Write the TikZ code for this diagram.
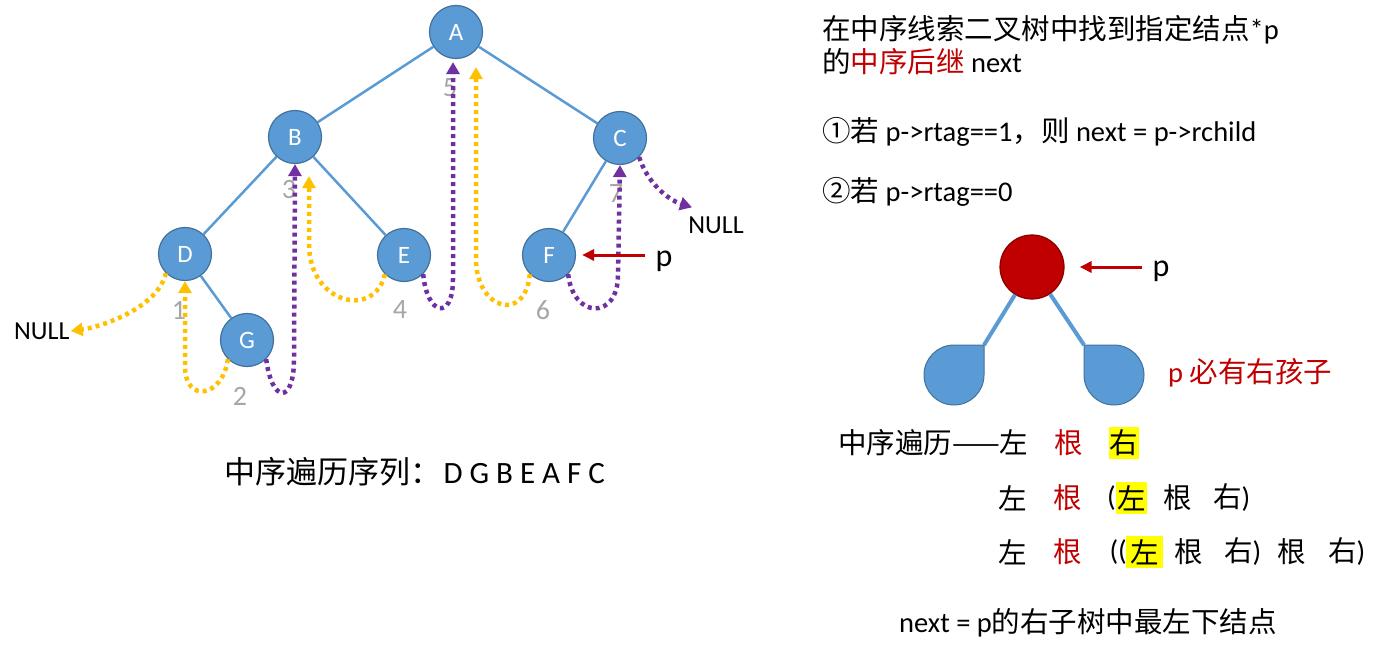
\documentclass[tikz,border=0pt]{standalone}
\usepackage{fontspec}
\setmainfont{Carlito}
\newfontfamily\cjk{Noto Sans CJK SC}
\usepackage{tikz}
\usetikzlibrary{arrows.meta, calc}
\usepackage{xcolor}
\definecolor{nodeblue}{HTML}{5B9BD5}
\definecolor{nodeedge}{HTML}{41719C}
\definecolor{thyellow}{HTML}{FFC000}
\definecolor{thpurple}{HTML}{7030A0}
\definecolor{pred}{HTML}{C00000}
\definecolor{numgray}{HTML}{A6A6A6}
\definecolor{hlyellow}{HTML}{FFFF00}

\begin{document}
\begin{tikzpicture}[x=1pt, y=-1pt,
  tnode/.style={circle, fill=nodeblue, draw=nodeedge, line width=1.2pt, minimum size=53pt, inner sep=0pt,
    text=white, font=\fontsize{25}{28}\selectfont},
  edge/.style={draw=nodeblue, line width=2.5pt},
  thr/.style={line width=4.5pt, dash pattern=on 4pt off 4pt, -{Triangle[length=12pt,width=13pt]}},
  ythr/.style={thr, draw=thyellow},
  pthr/.style={thr, draw=thpurple},
  num/.style={text=numgray, font=\fontsize{28}{30}\selectfont},
  nulltxt/.style={font=\fontsize{26}{28}\selectfont, inner sep=1pt},
  bigp/.style={font=\fontsize{32}{36}\selectfont, inner sep=0pt},
  parrow/.style={draw=pred, line width=3pt, -{Triangle[length=12pt,width=11pt]}},
  rtxt/.style={font=\fontsize{28.5}{32}\selectfont, inner sep=0pt},
  hl/.style={fill=hlyellow, inner xsep=1pt, inner ysep=3pt},
  subtree/.style={fill=nodeblue, draw=nodeedge, line width=1pt}]
  \useasboundingbox (0,0) rectangle (1375,647);

  % threaded tree
  \node[tnode] (A) at (456,32) {A};
  \node[tnode] (B) at (295,137) {B};
  \node[tnode] (C) at (620,138) {C};
  \node[tnode] (D) at (185,254) {D};
  \node[tnode] (E) at (404,255) {E};
  \node[tnode] (F) at (549,255) {F};
  \node[tnode] (G) at (247,340) {G};
  \draw[edge] (A) -- (B);
  \draw[edge] (A) -- (C);
  \draw[edge] (B) -- (D);
  \draw[edge] (B) -- (E);
  \draw[edge] (C) -- (F);
  \draw[edge] (D) -- (G);

  \node[nulltxt, anchor=west] (nullL) at (13,331) {NULL};
  \node[nulltxt] (nullR) at (716,225) {NULL};

  \node[num] (n1) at (179,310) {1};
  \node[num] (n2) at (240,396) {2};
  \node[num] (n3) at (289,190) {3};
  \node[num] (n4) at (400,310) {4};
  \node[num] (n5) at (450,88) {5};
  \node[num] (n6) at (543,310) {6};
  \node[num] (n7) at (616,194) {7};

  % left threads
  \draw[ythr] (D.225) .. controls +(-8,35) and +(30,-4) .. (nullL.east);
  \draw[ythr] (G.225) .. controls +(-5,38) and +(0,38) .. ($(D.south)+(0,85)$) -- (D.south);
  \draw[ythr] (E.225) .. controls +(-10,45) and +(0,60) .. ($(B.south)+(14,80)$) -- ($(B.south)+(14,12)$);
  \draw[ythr] (F.225) .. controls +(-5,50) and +(0,50) .. ($(A.south)+(20,200)$) -- ($(A.south)+(20,8)$);
  % right threads
  \draw[pthr] (G.-45) .. controls +(6,45) and +(0,45) .. ($(B.south)+(-1,195)$) -- (B.south);
  \draw[pthr] (E.-45) .. controls +(4,42) and +(0,42) .. ($(A.south)+(-3,220)$) -- ($(A.south)+(-3,3)$);
  \draw[pthr] (F.-45) .. controls +(5,45) and +(0,45) .. ($(C.south)+(-2,110)$) -- (C.south);
  \draw[pthr] (C.-45) .. controls +(8,25) and +(-25,-8) .. ($(nullR.north)+(-24,-8)$);

  \node[bigp, anchor=base] (pL) at (664,266) {p};
  \draw[parrow, shorten <=10pt, shorten >=6pt] (pL.west |- F.east) -- (F.east);

  \node[anchor=west, font=\fontsize{31}{34}\selectfont] (seq) at (221,472) {{\cjk 中序遍历序列：}\hspace{2pt}D G B E A F C};

  % right part
  \node[rtxt, anchor=west] (t1) at (822,30) {{\cjk 在中序线索二叉树中找到指定结点}*p};
  \node[rtxt, anchor=west] (t2) at (822,62) {{\cjk 的\textcolor{pred}{中序后继}} next};
  \node[rtxt, anchor=west] (t3) at (822,132) {{\cjk ①若} p->rtag==1{\cjk ，则} next = p->rchild};
  \node[rtxt, anchor=west] (t4) at (822,192) {{\cjk ②若} p->rtag==0};

  \node[circle, fill=pred, draw=pred!70!black, line width=1.2pt, minimum size=64pt] (pnode) at (1032,267) {};
  \coordinate (lc) at (984,345);
  \coordinate (rc) at (1084,345);
  \draw[draw=nodeblue, line width=4pt] (pnode) -- (lc);
  \draw[draw=nodeblue, line width=4pt] (pnode) -- (rc);
  \draw[subtree] (984,375) arc[start angle=0, end angle=270, radius=30] -- (lc) -- cycle;
  \draw[subtree] (1114,345) arc[start angle=-90, end angle=180, radius=30] -- (rc) -- cycle;
  \node[bigp, anchor=base] (pR) at (1161,276) {p};
  \draw[parrow, shorten <=10pt, shorten >=15pt] (pR.west |- pnode.east) -- (pnode.east);
  \node[rtxt, anchor=west, text=pred] (must) at (1168,373) {p {\cjk 必有右孩子}};

  \node[rtxt, anchor=west] (r1) at (838,443) {\cjk 中序遍历——左};
  \node[rtxt, text=pred] (g1) at (1069,443) {\cjk 根};
  \node[rtxt, hl] (y1) at (1124,443) {\cjk 右};

  \node[rtxt] (l2) at (1013,498) {\cjk 左};
  \node[rtxt, text=pred] (g2) at (1068,498) {\cjk 根};
  \node[rtxt, anchor=east] (o2) at (1116,498) {(};
  \node[rtxt, hl, anchor=west] (y2) at (1116,498) {\cjk 左};
  \node[rtxt] (m2) at (1178,498) {\cjk 根};
  \node[rtxt, anchor=west] (e2) at (1213,498) {{\cjk 右})};

  \node[rtxt] (l3) at (1013,552) {\cjk 左};
  \node[rtxt, text=pred] (g3) at (1068,552) {\cjk 根};
  \node[rtxt, anchor=east] (o3) at (1127,552) {((};
  \node[rtxt, hl, inner xsep=4pt, anchor=west] (y3) at (1126,552) {\cjk 左};
  \node[rtxt] (m3) at (1189,552) {\cjk 根};
  \node[rtxt, anchor=west] (e3) at (1224,552) {{\cjk 右})};
  \node[rtxt] (k3) at (1292,552) {\cjk 根};
  \node[rtxt, anchor=west] (f3) at (1328,552) {{\cjk 右})};

  \node[rtxt, anchor=west] (res) at (899,623) {next = p{\cjk 的右子树中最左下结点}};
\end{tikzpicture}
\end{document}
